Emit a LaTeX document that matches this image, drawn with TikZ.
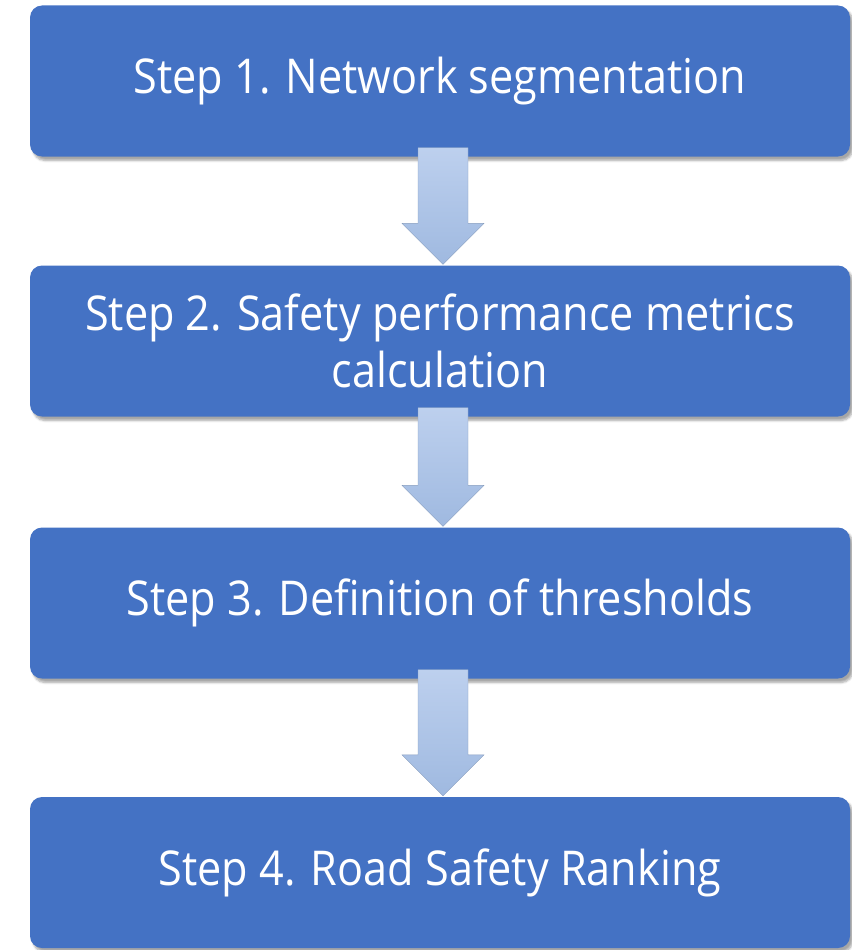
\documentclass[tikz,border=0pt]{standalone}
\usepackage{fontspec}
\setmainfont{Open Sans}[FakeStretch=0.9]
\usetikzlibrary{calc,shadows.blur}
\definecolor{bluscuro}{HTML}{4472C4}
\definecolor{bluchiaroA}{HTML}{BDD0EE}
\definecolor{bluchiaroB}{HTML}{9FB9E0}

\begin{document}
\begin{tikzpicture}[x=1pt,y=-1pt,
    passo/.style={fill=bluscuro,rounded corners=12pt,minimum width=820pt,
      minimum height=151pt,inner sep=0pt,text=white,align=center,
      font=\fontsize{48}{57}\selectfont,
      blur shadow={shadow xshift=3pt,shadow yshift=-4pt,shadow opacity=35,shadow blur steps=6}},
    freccia/.style={top color=bluchiaroA,bottom color=bluchiaroB,draw=bluchiaroB!85!black,line width=0.4pt}]

  \useasboundingbox (0,0) rectangle (851,950);

  % ---- i quattro passi --------------------------------------------------------
  \node[passo] (s1) at (440,81)    {Step 1. Network segmentation};
  \node[passo] (s2) at (440,341)   {Step 2. Safety performance metrics\\calculation};
  \node[passo] (s3) at (440,603)   {Step 3. Definition of thresholds};
  \node[passo] (s4) at (440,872.5) {Step 4. Road Safety Ranking};

  % ---- frecce a blocco tra un passo e il successivo --------------------------
  \foreach \da/\a in {s1/s2,s2/s3,s3/s4}
    \path let \p1=(\da.south), \p2=(\a.north) in
      [freccia] (\x1-22pt,\y1+9pt) -- (\x1+28pt,\y1+9pt) -- (\x1+28pt,\y2+42pt)
      -- (\x1+44pt,\y2+42pt) -- (\x1+3pt,\y2+1pt) -- (\x1-38pt,\y2+42pt)
      -- (\x1-22pt,\y2+42pt) -- cycle;

\end{tikzpicture}
\end{document}
